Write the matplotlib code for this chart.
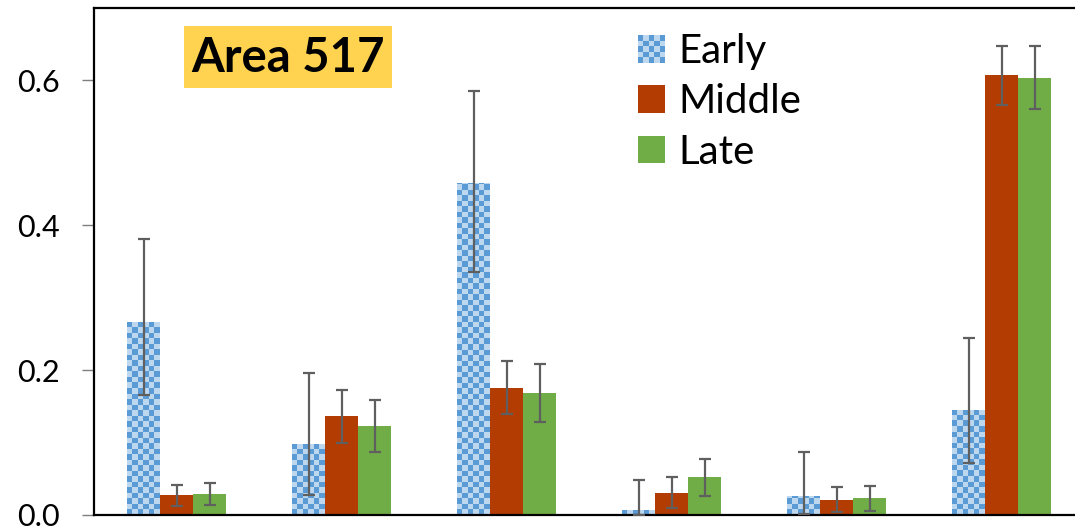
import numpy as np
import matplotlib.pyplot as plt
from matplotlib.patches import Rectangle, Patch
from matplotlib.colors import ListedColormap
from matplotlib.legend_handler import HandlerBase

plt.rcParams['font.family'] = ['Lato', 'DejaVu Sans']

# values (6 groups, no category labels)
early = [0.266, 0.098, 0.458, 0.007, 0.026, 0.145]
early_lo = [0.100, 0.071, 0.122, 0.007, 0.025, 0.073]
early_hi = [0.115, 0.098, 0.127, 0.041, 0.061, 0.099]
middle = [0.027, 0.136, 0.176, 0.031, 0.021, 0.607]
middle_err = [0.015, 0.036, 0.036, 0.021, 0.017, 0.041]
late = [0.029, 0.123, 0.168, 0.052, 0.023, 0.604]
late_err = [0.015, 0.036, 0.040, 0.026, 0.017, 0.043]
series_names = ['Early', 'Middle', 'Late']
yticks = [0.0, 0.2, 0.4, 0.6]

blue_dark = '#5B9BD5'
blue_light = '#BDD7EE'
red = '#B33C02'
green = '#70AD47'
err_col = '#5F5F5F'


class HandlerChecker(HandlerBase):
    def create_artists(self, legend, orig_handle, xdescent, ydescent,
                       width, height, fontsize, trans):
        n = 5
        arts = [Rectangle((-xdescent, -ydescent), width, height,
                          facecolor=blue_light, edgecolor='none', transform=trans)]
        cw, ch = width / n, height / n
        for i in range(n):
            for j in range(n):
                if (i + j) % 2 == 0:
                    arts.append(Rectangle((-xdescent + i * cw, -ydescent + j * ch), cw, ch,
                                          facecolor=blue_dark, edgecolor='none', transform=trans))
        return arts


fig = plt.figure(figsize=(10.75, 5.27), dpi=100)
ax = fig.add_axes([94 / 1075, 12 / 527, 990 / 1075, 507 / 527])

x = np.arange(len(early))
w = 0.2
bars_e = ax.bar(x - w, early, w, color=blue_light, zorder=2)
ax.bar(x, middle, w, color=red, zorder=2)
ax.bar(x + w, late, w, color=green, zorder=2)

# checker fill for the Early bars
ymax = 0.70
checker = (np.indices((92, 180)).sum(axis=0) % 2)
cmap = ListedColormap([blue_light, blue_dark])
for b in bars_e:
    im = ax.imshow(checker, extent=(-0.5, 5.5, 0, ymax), cmap=cmap,
                   interpolation='nearest', aspect='auto', zorder=2.5)
    im.set_clip_path(b)

ekw = dict(fmt='none', ecolor=err_col, elinewidth=1.6, capsize=4.5, capthick=1.6, zorder=3)
ax.errorbar(x - w, early, yerr=[early_lo, early_hi], **ekw)
ax.errorbar(x, middle, yerr=middle_err, **ekw)
ax.errorbar(x + w, late, yerr=late_err, **ekw)

ax.set_xlim(-0.5, 5.5)
ax.set_ylim(0, ymax)
ax.set_xticks([])
ax.set_yticks(yticks)
ax.set_yticklabels([f'{v:.1f}' for v in yticks])
ax.tick_params(axis='y', direction='out', length=8.5, width=1, color='#7F7F7F',
               labelsize=22, pad=16)
for s in ['left', 'top', 'bottom', 'right']:
    ax.spines[s].set_linewidth(1.6)
    ax.spines[s].set_color('black')

# title box
ax.add_patch(Rectangle((90 / 990, 427 / 507), 208 / 990, 62 / 507, transform=ax.transAxes,
                       facecolor='#FFD34F', edgecolor='none', zorder=4))
ax.text(194 / 990, 457 / 507, 'Area 517', transform=ax.transAxes, ha='center', va='center',
        fontsize=34, fontweight='bold', zorder=5)

early_proxy = Patch(facecolor=blue_light)
handles = [early_proxy, Patch(facecolor=red), Patch(facecolor=green)]
ax.legend(handles, series_names, handler_map={early_proxy: HandlerChecker()},
          loc='upper left', bbox_to_anchor=(544 / 990, 482 / 507), frameon=False,
          fontsize=29, handlelength=0.68, handleheight=0.68, handletextpad=0.33,
          labelspacing=0.33, borderpad=0, borderaxespad=0)

fig.savefig('out.png', dpi=100)
